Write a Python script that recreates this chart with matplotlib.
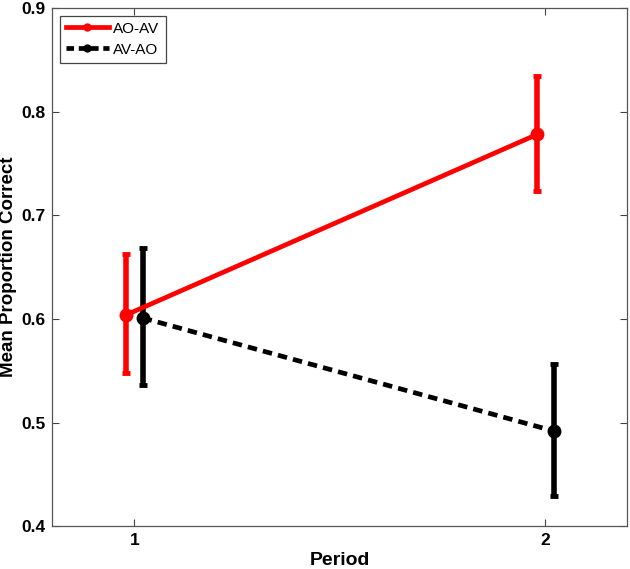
import matplotlib
matplotlib.use("Agg")
import matplotlib.pyplot as plt
from matplotlib.lines import Line2D
import numpy as np

plt.rcParams['font.family'] = ['Liberation Sans', 'DejaVu Sans']

periods = [1, 2]
series_names = ["AO-AV", "AV-AO"]
ao_av_mean = [0.604, 0.778]
ao_av_lo = [0.548, 0.723]
ao_av_hi = [0.663, 0.834]
av_ao_mean = [0.601, 0.492]
av_ao_lo = [0.536, 0.429]
av_ao_hi = [0.668, 0.557]

fig = plt.figure(figsize=(6.3, 5.69), dpi=100)
ax = fig.add_axes([0.083, 0.075, 0.913, 0.911])

x = np.array(periods, dtype=float)

# red series, shifted a little left
m = np.array(ao_av_mean)
err = [m - np.array(ao_av_lo), np.array(ao_av_hi) - m]
ax.errorbar(x - 0.02, m, yerr=err, color="red", lw=3.4, marker="o", ms=9,
            elinewidth=4, capsize=3.2, capthick=3.5)

# black series, shifted a little right
m = np.array(av_ao_mean)
err = [m - np.array(av_ao_lo), np.array(av_ao_hi) - m]
eb = ax.errorbar(x + 0.02, m, yerr=err, color="black", lw=3.4, marker="o", ms=9,
                 elinewidth=4, capsize=3.2, capthick=3.5)
eb[0].set_dashes([2.0, 1.3])

ax.set_xlim(0.8, 2.2)
ax.set_ylim(0.4, 0.9)
ax.set_xticks(periods)
ax.set_yticks([0.4, 0.5, 0.6, 0.7, 0.8, 0.9])
ax.set_yticklabels(["0.4", "0.5", "0.6", "0.7", "0.8", "0.9"])
ax.tick_params(direction="in", top=True, right=True, length=5, width=0.8,
               labelsize=12.5, color="#444444", pad=5)
for lab in ax.get_xticklabels() + ax.get_yticklabels():
    lab.set_fontweight("bold")
for s in ax.spines.values():
    s.set_color("#555555")
    s.set_linewidth(0.9)

ax.set_xlabel("Period", fontsize=14, fontweight="bold", labelpad=3)
ax.set_ylabel("Mean Proportion Correct", fontsize=13.5, fontweight="bold", labelpad=3)

handles = [
    Line2D([], [], color="red", lw=3.4, marker="o", ms=5),
    Line2D([], [], color="black", lw=3.4, marker="o", ms=5, dashes=[1.6, 1.0]),
]
leg = ax.legend(handles, series_names, loc="upper left", fontsize=11, fancybox=False,
                framealpha=1, edgecolor="#444444", handlelength=2.8, borderaxespad=0.5,
                handletextpad=0.3, borderpad=0.4, labelspacing=0.45)
leg.get_frame().set_linewidth(0.9)

fig.savefig("out.png", dpi=100)
